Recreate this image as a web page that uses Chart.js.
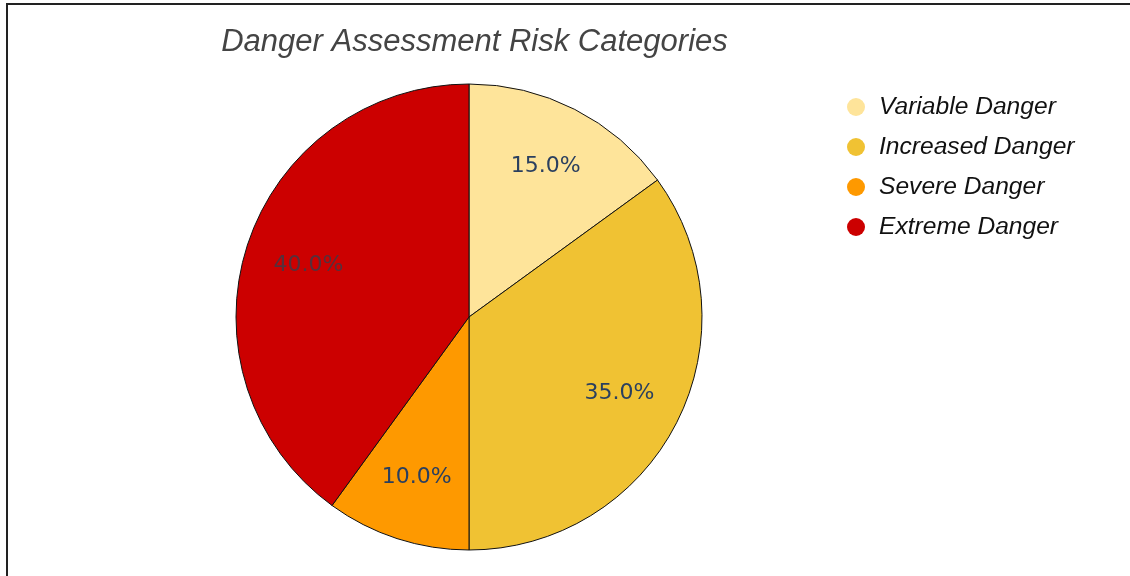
<!DOCTYPE html>
<html>
<head>
<meta charset="utf-8">
<script src="https://cdn.jsdelivr.net/npm/chart.js@4/dist/chart.umd.min.js"></script>
<style>
  html, body { margin: 0; padding: 0; background: #fff; overflow: hidden; }
  #wrap { position: relative; width: 1130px; height: 576px; }
  #frame { position: absolute; left: 6px; top: 3px; width: 1200px; height: 700px; border: 2px solid #222; box-sizing: border-box; pointer-events: none; }
  canvas { position: absolute; left: 0; top: 0; }
</style>
</head>
<body>
<div id="wrap">
  <canvas id="c" width="1130" height="576"></canvas>
  <div id="frame"></div>
</div>
<script>
const titleText = 'Danger Assessment Risk Categories';
const categories = ['Variable Danger', 'Increased Danger', 'Severe Danger', 'Extreme Danger'];
const shares = [15, 35, 10, 40];
const sliceColors = ['#FEE49A', '#F0C233', '#FE9900', '#CC0000'];

const overlay = {
  id: 'overlay',
  afterDraw(chart) {
    const ctx = chart.ctx;
    ctx.save();
    // title
    ctx.font = 'italic 31px "Liberation Sans", Arial, sans-serif';
    ctx.fillStyle = '#444';
    ctx.textAlign = 'center';
    ctx.textBaseline = 'alphabetic';
    ctx.fillText(titleText, 474.5, 51);

    // slice labels
    const meta = chart.getDatasetMeta(0);
    const total = shares.reduce((a, b) => a + b, 0);
    ctx.font = '22px "DejaVu Sans", Verdana, sans-serif';
    ctx.textBaseline = 'middle';
    ctx.textAlign = 'center';
    meta.data.forEach((arc, i) => {
      const p = arc.getProps(['x', 'y', 'startAngle', 'endAngle', 'outerRadius'], true);
      const mid = (p.startAngle + p.endAngle) / 2;
      const r = p.outerRadius * 0.725;
      const x = p.x + Math.cos(mid) * r;
      const y = p.y + Math.sin(mid) * r;
      ctx.fillStyle = i === 3 ? '#55303c' : '#2a3f5f';
      ctx.fillText((shares[i] / total * 100).toFixed(1) + '%', x, y);
    });

    // legend
    ctx.font = 'italic 24.6px "Liberation Sans", Arial, sans-serif';
    ctx.textAlign = 'left';
    ctx.textBaseline = 'middle';
    categories.forEach((name, i) => {
      const cy = 107 + i * 40;
      ctx.beginPath();
      ctx.arc(856, cy, 9, 0, Math.PI * 2);
      ctx.fillStyle = sliceColors[i];
      ctx.fill();
      ctx.fillStyle = '#111';
      ctx.fillText(name, 879, cy);
    });
    ctx.restore();
  }
};

new Chart(document.getElementById('c'), {
  type: 'pie',
  data: {
    labels: categories,
    datasets: [{
      data: shares,
      backgroundColor: sliceColors,
      borderColor: '#111',
      borderWidth: 1
    }]
  },
  options: {
    responsive: false,
    animation: false,
    radius: 233,
    layout: { padding: { left: 236, right: 428, top: 84, bottom: 26 } },
    plugins: {
      legend: { display: false },
      title: { display: false },
      tooltip: { enabled: false }
    }
  },
  plugins: [overlay]
});
</script>
</body>
</html>
